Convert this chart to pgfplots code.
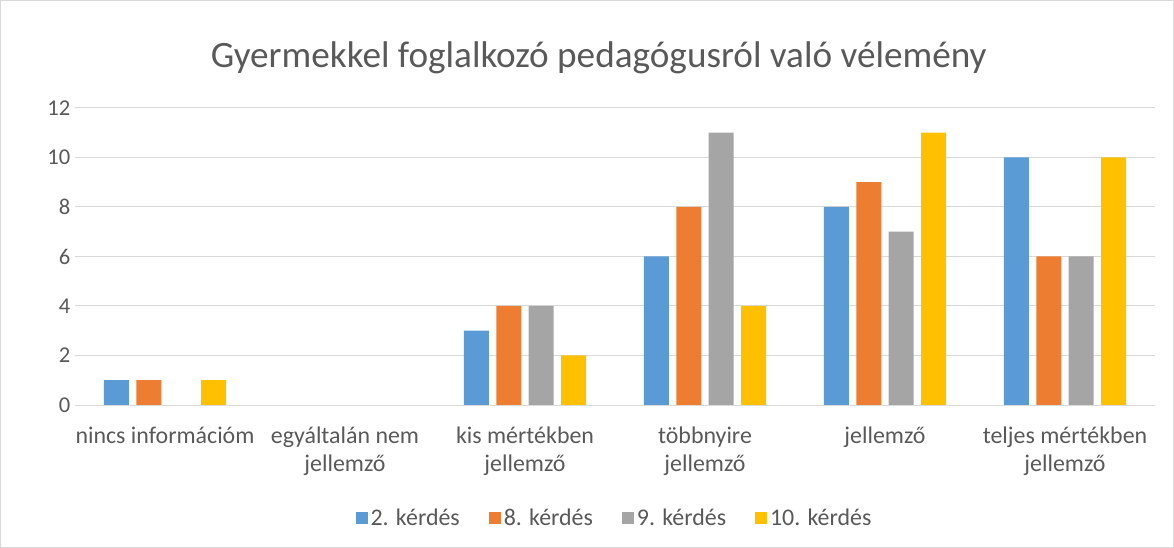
\documentclass[border=0pt]{standalone}
\usepackage{pgfplots}
\pgfplotsset{compat=1.18}
\usepackage{fontspec}
\setmainfont{Carlito}
\definecolor{cblue}{HTML}{5B9BD5}
\definecolor{corange}{HTML}{ED7D31}
\definecolor{cgray}{HTML}{A5A5A5}
\definecolor{cyellow}{HTML}{FFC000}
\definecolor{txt}{HTML}{595959}
\definecolor{gridc}{HTML}{D9D9D9}
\begin{document}
\begin{tikzpicture}
\path (0,0) rectangle (880.5bp,411bp);
\draw[gridc, line width=0.75bp] (0.5bp,0.5bp) rectangle (880bp,410.5bp);
\node[txt, font=\fontsize{28}{32}\selectfont] at (449bp,368bp) {Gyermekkel foglalkozó pedagógusról való vélemény};
\begin{axis}[
  at={(56.25bp,107.25bp)}, anchor=south west,
  scale only axis, width=810bp, height=222.75bp,
  xmin=-0.5, xmax=5.5, ymin=0, ymax=12,
  ytick={0,2,...,12},
  xtick={0,1,2,3,4,5},
  xticklabels={nincs információm, egyáltalán nem\\jellemző, kis mértékben\\jellemző, többnyire\\jellemző, jellemző, teljes mértékben\\jellemző},
  x tick label style={align=center, font=\fontsize{18}{21}\selectfont, text=txt, yshift=-13bp},
  y tick label style={font=\fontsize{17}{20}\selectfont, text=txt},
  /pgf/number format/assume math mode=true,
  ymajorgrids, grid style={gridc, line width=0.75bp},
  axis line style={draw=none},
  major tick length=0pt,
  ybar=5.6bp, bar width=18.75bp,
  legend style={at={(0.5,-0.38)}, anchor=center, draw=none, legend columns=4,
    font=\fontsize{18}{21}\selectfont, text=txt,
    /tikz/every even column/.append style={column sep=20bp}},
  legend image code/.code={\fill[#1] (0bp,-4.5bp) rectangle (9bp,4.5bp);},
]
\addplot[fill=cblue, draw=none] coordinates {(0,1) (2,3) (3,6) (4,8) (5,10)};
\addplot[fill=corange, draw=none] coordinates {(0,1) (2,4) (3,8) (4,9) (5,6)};
\addplot[fill=cgray, draw=none] coordinates {(2,4) (3,11) (4,7) (5,6)};
\addplot[fill=cyellow, draw=none] coordinates {(0,1) (2,2) (3,4) (4,11) (5,10)};
\legend{2. kérdés, 8. kérdés, 9. kérdés, 10. kérdés}
\end{axis}
\end{tikzpicture}
\end{document}
